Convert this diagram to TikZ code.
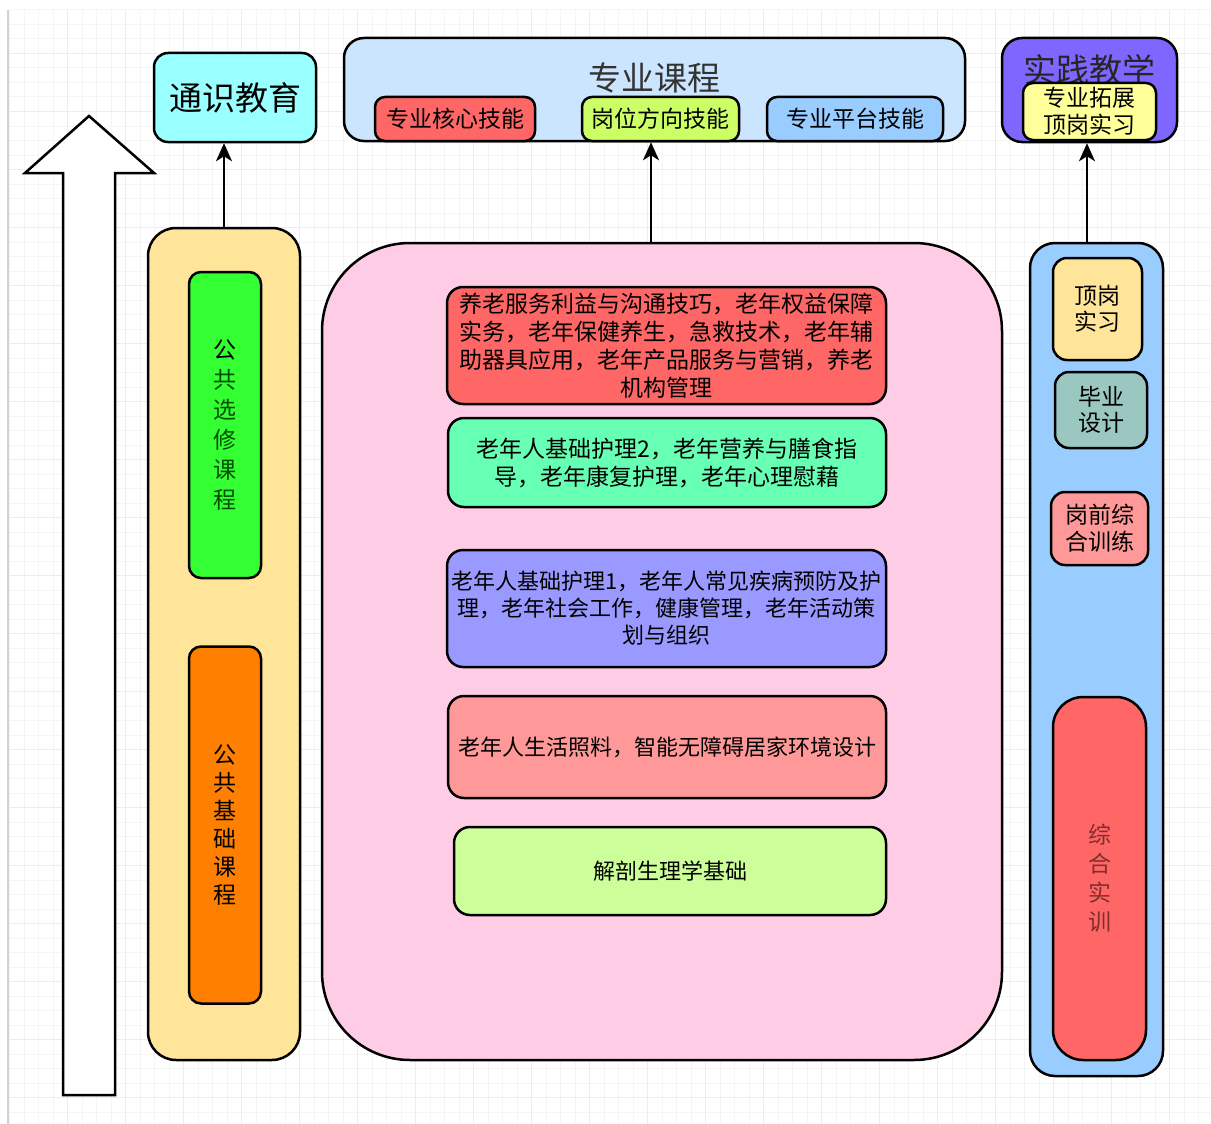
\documentclass[tikz,border=0pt]{standalone}
\usepackage{fontspec}
\setmainfont{Noto Sans CJK SC}
\usetikzlibrary{arrows.meta}

\definecolor{tscyan}{HTML}{99FFFF}
\definecolor{zyblue}{HTML}{CCE5FF}
\definecolor{hxred}{HTML}{FF6666}
\definecolor{gwlime}{HTML}{CCFF66}
\definecolor{ptsky}{HTML}{99CCFF}
\definecolor{sjpurple}{HTML}{7F66FF}
\definecolor{tzyellow}{HTML}{FFFF99}
\definecolor{ggyellow}{HTML}{FFE599}
\definecolor{xxgreen}{HTML}{33FF33}
\definecolor{jcorange}{HTML}{FF8000}
\definecolor{zypink}{HTML}{FFCCE6}
\definecolor{hlmint}{HTML}{66FFB3}
\definecolor{jcperi}{HTML}{9999FF}
\definecolor{shsalmon}{HTML}{FF9999}
\definecolor{jppale}{HTML}{CCFF99}
\definecolor{bysage}{HTML}{9AC7BF}

\begin{document}
\begin{tikzpicture}[x=1pt, y=-1pt, line width=2.5pt,
  >={Stealth[length=18pt, width=16pt, inset=5pt]},
  box/.style={draw, rounded corners=#1, inner sep=0pt, align=center},
  box/.default=14pt,
  txt/.style={font=\fontsize{23}{28}\selectfont},
  sml/.style={font=\fontsize{22}{27}\selectfont},
  ttl/.style={font=\fontsize{33}{40}\selectfont},
  vert/.style={font=\fontsize{23}{30}\selectfont}]
  \useasboundingbox (0,0) rectangle (1211,1124);
  % grid
  \foreach \gx in {9.5,24,...,1211} \draw[line width=1pt, gray!8] (\gx,10) -- (\gx,1124);
  \foreach \gy in {10,24.5,...,1124} \draw[line width=1pt, gray!8] (9.5,\gy) -- (1211,\gy);
  \foreach \gx in {67.5,125.5,...,1211} \draw[line width=1pt, gray!14] (\gx,10) -- (\gx,1124);
  \foreach \gy in {53.5,111.5,...,1124} \draw[line width=1pt, gray!14] (9.5,\gy) -- (1211,\gy);
  \draw[line width=2.5pt, gray!35] (8,10) -- (8,1124);

  \draw[fill=white] (89,116) -- (154,173) -- (115,173) -- (115,1095) -- (63,1095)
    -- (63,173) -- (25,173) -- cycle;

  % top row
  \node[box, fill=tscyan, minimum width=162pt, minimum height=89pt, ttl] (tsjy) at (235,97.5) {通识教育};
  \node[box=20pt, fill=zyblue, minimum width=621pt, minimum height=103pt] (zykc) at (654.5,89.5) {};
  \node[ttl, text=black!80] at ([yshift=-41pt]zykc.north) {专业课程};
  \node[box=10pt, fill=hxred, minimum width=160pt, minimum height=44pt, txt] (hxjn) at (455,119) {专业核心技能};
  \node[box=10pt, fill=gwlime, minimum width=157pt, minimum height=44pt, txt] (gwjn) at (660.5,119) {岗位方向技能};
  \node[box=10pt, fill=ptsky, minimum width=176pt, minimum height=44pt, txt] (ptjn) at (855,119) {专业平台技能};
  \node[box=20pt, fill=sjpurple, minimum width=175pt, minimum height=104pt] (sjjx) at (1089.5,90) {};
  \node[ttl, text=black!85] at ([yshift=-33pt]sjjx.north) {实践教学};
  \node[box=10pt, fill=tzyellow, minimum width=133pt, minimum height=57pt, txt, font=\fontsize{23}{27}\selectfont] (tzsx) at (1089.5,111.5) {专业拓展\\顶岗实习};

  % left column
  \node[box=28pt, fill=ggyellow, minimum width=152pt, minimum height=832pt] (ggkc) at (224,644) {};
  \node[box=12pt, fill=xxgreen, minimum width=72pt, minimum height=306pt, vert, text=green!30!black] (xxkc) at (225,425)
    {\textcolor{black}{公}\\共\\选\\修\\课\\程};
  \node[box=12pt, fill=jcorange, minimum width=72pt, minimum height=357pt, vert, font=\fontsize{23}{28}\selectfont] (jckc) at (225,825) {公\\共\\基\\础\\课\\程};

  % middle column
  \node[box=88pt, fill=zypink, minimum width=680pt, minimum height=817pt] (zyjn) at (662,651.5) {};
  \node[box=16pt, fill=hxred, minimum width=439pt, minimum height=117pt, txt] (yljg) at (666.5,345.5)
    {养老服务利益与沟通技巧，老年权益保障\\实务，老年保健养生，急救技术，老年辅\\助器具应用，老年产品服务与营销，养老\\机构管理};
  \node[box=16pt, fill=hlmint, minimum width=438pt, minimum height=89pt, txt] (hl2) at (667,462.5)
    {老年人基础护理2，老年营养与膳食指\\导，老年康复护理，老年心理慰藉};
  \node[box=16pt, fill=jcperi, minimum width=439pt, minimum height=117pt, sml] (hl1) at (666.5,608.5)
    {老年人基础护理1，老年人常见疾病预防及护\\理，老年社会工作，健康管理，老年活动策\\划与组织};
  \node[box=16pt, fill=shsalmon, minimum width=438pt, minimum height=102pt, sml] (shzl) at (667,747)
    {老年人生活照料，智能无障碍居家环境设计};
  \node[box=16pt, fill=jppale, minimum width=432pt, minimum height=88pt, sml] (jpsl) at (670,871)
    {解剖生理学基础};

  % right column
  \node[box=25pt, fill=ptsky, minimum width=133pt, minimum height=833pt] (sjkc) at (1096.5,659.5) {};
  \node[box=14pt, fill=ggyellow, minimum width=89pt, minimum height=102pt, txt, font=\fontsize{23}{26}\selectfont] (dgsx) at (1097.5,309) {顶岗\\实习};
  \node[box=14pt, fill=bysage, minimum width=92pt, minimum height=76pt, txt, font=\fontsize{23}{26}\selectfont] (bysj) at (1101,410) {毕业\\设计};
  \node[box=14pt, fill=shsalmon, minimum width=97pt, minimum height=73pt, txt, font=\fontsize{23}{27}\selectfont] (gqxl) at (1099.5,528.5) {岗前综\\合训练};
  \node[box=30pt, fill=hxred, minimum width=93pt, minimum height=363pt, vert, font=\fontsize{23}{29}\selectfont,
    text={rgb,255:red,130;green,45;blue,45}] (zhsx) at (1099.5,878.5) {综\\合\\实\\训};

  % arrows
  \draw[->] (ggkc.north) -- (ggkc.north |- tsjy.south);
  \draw[->] ([xshift=-11pt]zyjn.north) -- ([xshift=-11pt]zyjn.north |- gwjn.south);
  \draw[->] ([xshift=-9.5pt]sjkc.north) -- ([xshift=-9.5pt]sjkc.north |- sjjx.south);
\end{tikzpicture}
\end{document}
